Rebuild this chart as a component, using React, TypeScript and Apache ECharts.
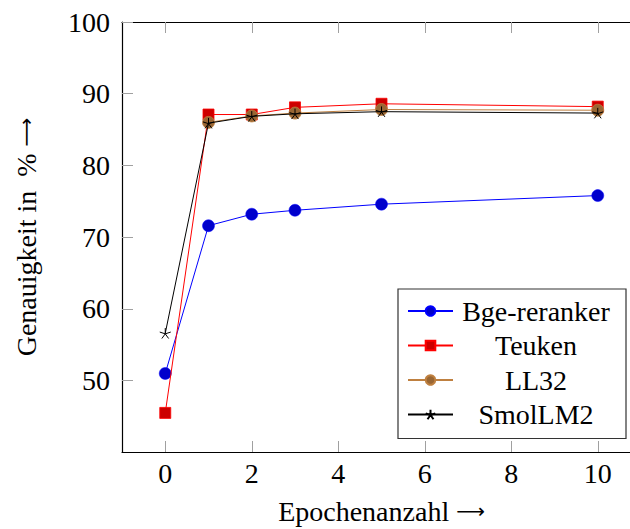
import React, { useEffect, useRef } from "react";
import * as echarts from "echarts";

const epochs = [0, 1, 2, 3, 5, 10];
const bgeReranker = [51.0, 71.6, 73.2, 73.75, 74.6, 75.8];
const teuken = [45.5, 87.1, 87.1, 88.1, 88.6, 88.2];
const ll32Epochs = [1, 2, 3, 5, 10];
const ll32 = [86.0, 86.9, 87.3, 87.8, 87.7];
const smolLM2 = [56.6, 85.9, 86.85, 87.2, 87.5, 87.3];
const xTicks = [0, 2, 4, 6, 8, 10];
const yTicks = [50, 60, 70, 80, 90, 100];

const FONT = "'Liberation Serif', 'DejaVu Serif', serif";
const FS = 28;

const starPath =
  "path://M0 0L0 -1M0 0L0.951 -0.309M0 0L0.588 0.809M0 0L-0.588 0.809M0 0L-0.951 -0.309";

function pairs(xs: number[], ys: number[]) {
  return xs.map((x, i) => [x, ys[i]]);
}

const arrowRich = {
  a: { fontFamily: "'DejaVu Sans', sans-serif", fontSize: 20, color: "#000" },
};

export default function App() {
  const ref = useRef<HTMLDivElement>(null);
  useEffect(() => {
    if (!ref.current) return;
    const chart = echarts.init(ref.current, undefined, { renderer: "svg" });
    const tickStyle = { color: "#a0a0a0", width: 1 };
    chart.setOption({
      animation: false,
      backgroundColor: "#fff",
      grid: {
        left: 122,
        top: 22,
        width: 519,
        height: 430,
        containLabel: false,
        outerBoundsMode: "none",
      },
      xAxis: [
        {
          type: "value",
          min: -1,
          max: 11,
          position: "bottom",
          name: "Epochenanzahl {a|\u27F6}",
          nameLocation: "middle",
          nameGap: 45,
          nameTextStyle: { fontFamily: FONT, fontSize: FS, color: "#000", rich: arrowRich },
          axisLine: { show: true, onZero: false, lineStyle: { color: "#000", width: 1.2 } },
          axisTick: {
            show: true,
            inside: true,
            length: 11,
            lineStyle: tickStyle,
            customValues: xTicks,
          },
          axisLabel: {
            fontFamily: FONT,
            fontSize: FS,
            color: "#000",
            margin: 7,
            customValues: xTicks,
          },
          splitLine: { show: false },
        },
        {
          type: "value",
          min: -1,
          max: 11,
          position: "top",
          axisLine: { show: true, onZero: false, lineStyle: { color: "#000", width: 1.2 } },
          axisTick: {
            show: true,
            inside: true,
            length: 11,
            lineStyle: tickStyle,
            customValues: xTicks,
          },
          axisLabel: { show: false },
          splitLine: { show: false },
        },
      ],
      yAxis: {
        type: "value",
        min: 40.05,
        max: 100,
        position: "left",
        name: "Genauigkeit in  % {a|\u27F6}",
        nameLocation: "middle",
        nameRotate: 90,
        nameGap: 82,
        nameTextStyle: { fontFamily: FONT, fontSize: FS, color: "#000", rich: arrowRich },
        axisLine: { show: true, onZero: false, lineStyle: { color: "#000", width: 1.2 } },
        axisTick: {
          show: true,
          inside: true,
          length: 11,
          lineStyle: tickStyle,
          customValues: yTicks,
        },
        axisLabel: {
          fontFamily: FONT,
          fontSize: FS,
          color: "#000",
          margin: 12,
          customValues: yTicks,
        },
        splitLine: { show: false },
      },
      legend: {
        orient: "vertical",
        left: 398,
        top: 289,
        padding: [7, 12, 9, 9],
        itemGap: 4.5,
        itemWidth: 45,
        itemHeight: 12,
        borderColor: "#333",
        borderWidth: 1.2,
        backgroundColor: "#fff",
        formatter: "{c|{name}}",
        textStyle: {
          fontFamily: FONT,
          fontSize: FS,
          color: "#000",
          lineHeight: 30,
          rich: {
            c: {
              fontFamily: FONT,
              fontSize: FS,
              color: "#000",
              width: 156,
              align: "center",
              lineHeight: 30,
            },
          },
        },
        data: ["Bge-reranker", "Teuken", "LL32", "SmolLM2"],
      },
      series: [
        {
          name: "Bge-reranker",
          type: "line",
          data: pairs(epochs, bgeReranker),
          symbol: "circle",
          symbolSize: 12,
          lineStyle: { color: "#0000ff", width: 1 },
          itemStyle: { color: "#0000cc", borderColor: "#0000ff", borderWidth: 0.5 },
          z: 2,
        },
        {
          name: "Teuken",
          type: "line",
          data: pairs(epochs, teuken),
          symbol: "rect",
          symbolSize: 11,
          lineStyle: { color: "#ff0000", width: 1 },
          itemStyle: { color: "#cc0000", borderColor: "#ff0000", borderWidth: 0.8 },
          z: 3,
        },
        {
          name: "LL32",
          type: "line",
          data: pairs(ll32Epochs, ll32),
          symbol: "circle",
          symbolSize: 12,
          lineStyle: { color: "#bf8040", width: 1 },
          itemStyle: { color: "#996633", borderColor: "#bf8040", borderWidth: 0.8 },
          z: 4,
        },
        {
          name: "SmolLM2",
          type: "line",
          data: pairs(epochs, smolLM2),
          symbol: starPath,
          symbolSize: 11,
          symbolKeepAspect: true,
          lineStyle: { color: "#000", width: 1 },
          itemStyle: { color: "rgba(0,0,0,0)", borderColor: "#000", borderWidth: 1 },
          z: 5,
        },
      ],
    });
    return () => chart.dispose();
  }, []);
  return (
    <div
      style={{
        position: "absolute",
        left: 0,
        top: 0,
        width: 630,
        height: 529,
        overflow: "hidden",
      }}
    >
      <div ref={ref} style={{ width: 660, height: 529 }} />
    </div>
  );
}
